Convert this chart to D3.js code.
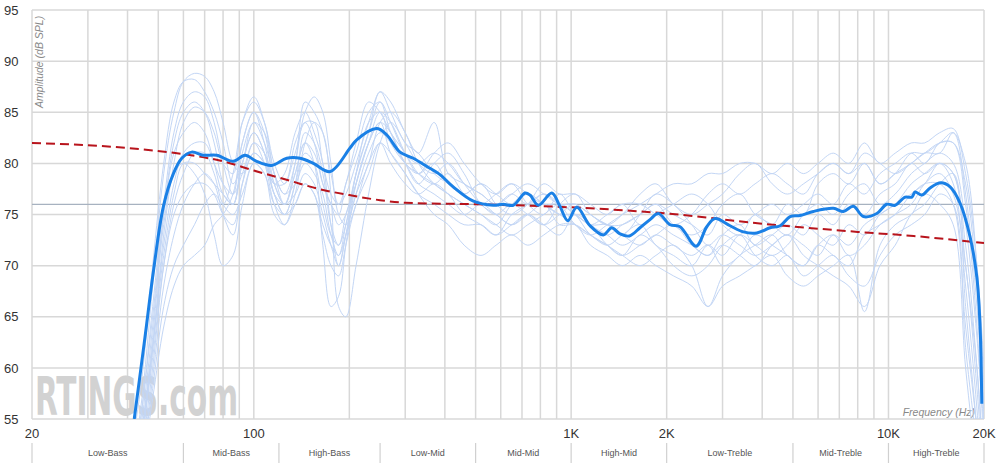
<!DOCTYPE html>
<html>
<head>
<meta charset="utf-8">
<script src="https://cdn.jsdelivr.net/npm/d3@7"></script>
<style>
  body { margin: 0; background: #fff; }
  text { font-family: "Liberation Sans", Arial, sans-serif; }
</style>
</head>
<body>
<svg id="chart"></svg>
<script>
// Tick values / labels
const dbTicks = [55, 60, 65, 70, 75, 80, 85, 90, 95];
const gridFreqs = [30, 40, 50, 60, 70, 80, 90, 100, 200, 300, 400, 500, 600, 700, 800, 900,
    1000, 2000, 3000, 4000, 5000, 6000, 7000, 8000, 9000, 10000];
const freqLabels = [20, 100, 1000, 2000, 10000, 20000];
const freqLabelText = ["20", "100", "1K", "2K", "10K", "20K"];
const bandEdges = [20, 60, 120, 250, 500, 1000, 2000, 5000, 10000, 20000];
const bandNames = ["Low-Bass", "Mid-Bass", "High-Bass", "Low-Mid", "Mid-Mid", "High-Mid",
    "Low-Treble", "Mid-Treble", "High-Treble"];
const targetLevel = 76;

// Average response (thick blue)
const mainFreq = [42, 45.4, 48.2, 51.9, 55.8, 59.3, 63.7, 69.3, 76.4, 86.2, 93.8, 102, 113.8, 127, 140, 154,
    174, 201, 211, 244, 262, 289, 318, 351, 386, 425, 492, 569, 611, 657, 716, 742, 788, 869, 922, 976,
    1042, 1147, 1263, 1343, 1426, 1526, 1648, 1772, 1882, 2050, 2204, 2476, 2676, 2842, 3169, 3490,
    3846, 4236, 4556, 4898, 5266, 5800, 6706, 7212, 7752, 8338, 9188, 9878, 10492, 11284, 11850,
    12134, 12736, 13522, 14616, 15638, 16816, 18080, 18982, 19442, 19680];
const mainDb = [55, 63, 69.3, 75.8, 79.0, 80.5, 81.1, 80.8, 80.8, 80.2, 80.8, 80.2, 79.8, 80.5, 80.5, 80.0,
    79.2, 81.5, 82.3, 83.4, 82.8, 81.1, 80.5, 79.7, 78.9, 77.7, 76.3, 75.9, 76.0, 75.9, 77.1, 76.9,
    75.9, 77.1, 75.8, 74.4, 75.7, 73.9, 73.0, 73.7, 73.1, 72.9, 73.7, 74.5, 75.1, 74.0, 73.8, 71.9,
    73.8, 74.6, 73.9, 73.3, 73.2, 73.7, 73.9, 74.8, 74.9, 75.3, 75.6, 75.3, 75.8, 74.8, 75.1, 76.0,
    75.9, 76.7, 76.7, 77.2, 76.9, 77.6, 78.1, 77.7, 76.1, 72.8, 68.9, 64.0, 56.5];

// Target curve (red dashed)
const targetFreq = [20, 40, 60, 80, 100, 130, 160, 200, 250, 300, 500, 1000, 2000, 4000, 8000, 12000, 20000];
const targetDb = [82.0, 81.5, 80.9, 80.2, 79.3, 78.3, 77.5, 76.9, 76.4, 76.15, 76.0, 75.7, 75.1, 74.1, 73.3, 72.9, 72.2];

// Individual measurements (thin light blue), all on the same frequency points
const measFreq = [20, 35, 40, 44, 48, 52, 56, 60, 65, 70, 75, 80, 86, 92, 100, 108, 116, 125, 135, 145,
    155, 165, 175, 185, 195, 210, 230, 250, 270, 300, 330, 370, 410, 460, 520, 580, 650, 730, 820, 920,
    1030, 1150, 1300, 1450, 1650, 1850, 2100, 2400, 2700, 3000, 3400, 3800, 4300, 4800, 5400, 6000,
    6700, 7500, 8400, 9400, 10500, 11800, 13000, 14500, 16000, 17500, 19000, 20000];
const meas01 = [30,40,48,56,68,79,85,88,88.8,88.5,87,84,80,79,81,80,78,78,82,84,82,78,76,75,78,81,85,86,84,81,80,81,80,78,77,76,77,76,77,76,76,75,74,74,75,76,75,74,73,75,74,75,76,75,76,77,76,78,77,79,80,81,80,82,82,76,64,52];
const meas02 = [30,41,50,58,70,80,86,88,88.2,87,85,82,78,80,84,83,79,77,80,86,85,83,79,76,77,80,84,87,85,82,81,79,78,77,78,76,75,76,78,77,77,76,75,76,74,75,76,77,76,74,73,75,74,76,75,78,79,78,80,78,79,80,81,81,83,80,70,58];
const meas03 = [28,39,47,55,66,76,83,86,87,86.5,84,80,77,82,85,82,78,79,83,85,83,80,74,70,73,79,83,86,83,80,78,80,81,79,76,75,74,75,74,75,76,74,73,72,73,74,73,72,71,73,74,72,73,74,73,75,74,76,75,77,78,80,79,80,79,70,60,50];
const meas04 = [28,38,46,54,64,75,82,85,86,85,82,78,76,80,83,81,77,76,79,82,80,72,66,67,72,78,82,84,83,80,79,78,77,76,75,74,76,77,76,75,74,73,72,73,74,72,71,70,72,71,73,72,71,72,74,73,72,74,73,75,76,78,79,80,78,68,56,47];
const meas05 = [27,37,45,53,62,73,80,84,85.5,85,83,80,79,84,86,84,80,78,81,84,84,80,77,76,78,82,86,85,83,81,79,78,79,77,76,77,78,76,75,77,75,74,73,74,75,76,74,73,74,76,77,75,74,73,75,76,75,77,78,76,77,79,80,81,80,74,63,54];
const meas06 = [27,38,46,55,65,75,81,83,84,83,80,77,76,81,84,82,79,77,78,80,79,77,73,71,74,79,84,85,82,80,79,81,82,80,78,77,78,77,76,76,75,74,74,73,72,73,72,71,72,70,71,73,72,71,70,72,73,71,72,74,75,76,78,79,77,70,58,49];
const meas07 = [26,36,44,52,62,72,78,81,82,82,80,78,77,79,82,81,78,76,77,79,78,75,72,70,73,77,81,83,82,80,78,77,76,75,76,75,74,75,76,74,74,73,72,71,72,73,74,72,71,72,71,70,72,73,72,71,73,72,74,75,76,77,78,78,76,64,54,46];
const meas08 = [25,35,43,51,60,70,76,79,81,81,79,76,75,77,80,79,76,75,78,81,80,76,73,72,75,78,82,84,81,79,77,76,75,74,74,73,74,75,74,73,75,74,72,71,73,72,70,69,70,72,73,71,70,71,69,70,71,69,68,71,73,74,75,77,76,62,52,44];
const meas09 = [24,34,42,50,58,66,70,72,74,76,77,76,79,84,86.5,84,79,76,79,82,81,78,76,74,75,79,83,87,86,83,81,84,79,78,77,76,77,78,77,76,76,75,74,75,77,78,76,75,76,77,79,80,78,77,78,79,80,79,81,80,79,80,81,82,82,78,68,56];
const meas10 = [24,34,41,49,57,64,68,70,71,72,74,75,77,82,85,83,78,76,80,85,86.5,85,80,75,74,77,80,84,85,83,80,78,77,76,75,74,73,74,75,76,75,73,72,71,70,71,72,70,66,69,71,72,73,71,70,72,71,70,73,74,75,77,78,80,79,72,60,50];
const meas11 = [25,35,42,50,59,68,73,76,78,79,78,75,73,78,82,80,76,74,77,82,84,83,77,66,65,70,77,82,84,82,80,79,80,78,76,75,76,75,74,76,77,75,74,73,75,77,76,74,72,73,72,71,72,73,71,70,69,68,66,70,72,75,76,78,79,66,54,46];
const meas12 = [26,37,45,53,63,74,79,80,79,77,73,70,71,76,80,79,75,74,76,78,77,73,70,69,72,76,79,82,80,78,77,78,77,75,74,73,75,76,77,76,74,73,74,75,76,77,78,78,79,79,80,80,79,80,79,80,81,80,82,80,81,82,82,83,83.4,79,70,60];
const meas13 = [25,36,44,52,61,70,75,77,78,78,77,75,74,78,81,80,77,75,76,78,77,74,72,71,73,76,80,82,81,79,77,75,74,72,71,72,73,72,73,74,74,72,71,70,71,70,69,68,66,68,69,70,71,69,68,69,70,71,65.5,72,74,75,77,76,74,60,50,44];
const meas14 = [26,37,44,52,62,71,77,80,80,79,78,77,76,80,83,81,77,75,78,83,82,79,74,72,74,78,82,85,84,81,79,80,78,77,78,77,76,77,76,75,75,74,75,76,76,75,74,75,77,78,77,78,79,78,77,79,80,79,80,78,79,81,81,82,83,77,66,55];
const measurements = [meas01, meas02, meas03, meas04, meas05, meas06, meas07, meas08, meas09, meas10, meas11, meas12, meas13, meas14];

// Size
const width = 1000;
const height = 474;
const margin = { top: 10, right: 16, bottom: 55, left: 32 };

const svg = d3.select("#chart")
    .attr("width", width)
    .attr("height", height);

const x = d3.scaleLog()
    .domain([20, 20000])
    .range([margin.left, width - margin.right]);

const y = d3.scaleLinear()
    .domain([55, 95])
    .range([height - margin.bottom, margin.top]);

svg.append("defs").append("clipPath")
    .attr("id", "plot-clip")
    .append("rect")
    .attr("x", x(20))
    .attr("y", y(95))
    .attr("width", x(20000) - x(20))
    .attr("height", y(55) - y(95));

// Grid
svg.append("g")
    .selectAll("line")
    .data(dbTicks)
    .join("line")
    .attr("x1", x(20))
    .attr("x2", x(20000))
    .attr("y1", d => y(d))
    .attr("y2", d => y(d))
    .attr("stroke", "#d8d8d8")
    .attr("stroke-width", 1.5);

svg.append("g")
    .selectAll("line")
    .data([20].concat(gridFreqs, [20000]))
    .join("line")
    .attr("x1", d => x(d))
    .attr("x2", d => x(d))
    .attr("y1", y(95))
    .attr("y2", y(55))
    .attr("stroke", "#d8d8d8")
    .attr("stroke-width", 1.5);

// Target level line
svg.append("line")
    .attr("x1", x(20))
    .attr("x2", x(20000))
    .attr("y1", y(targetLevel))
    .attr("y2", y(targetLevel))
    .attr("stroke", "#a7b2c0")
    .attr("stroke-width", 1.2);

// Watermark
svg.append("text")
    .attr("x", 35)
    .attr("y", 415)
    .attr("textLength", 203)
    .attr("lengthAdjust", "spacingAndGlyphs")
    .style("font-family", "'Liberation Sans Narrow', 'DejaVu Sans Condensed', sans-serif")
    .style("font-weight", "bold")
    .style("font-size", "54px")
    .attr("fill", "#d2d2d2")
    .text("RTINGS.com");

// Axis labels
svg.append("g")
    .selectAll("text")
    .data(dbTicks)
    .join("text")
    .attr("x", 18.5)
    .attr("y", d => y(d))
    .attr("dy", "0.36em")
    .attr("text-anchor", "end")
    .attr("fill", "#333")
    .style("font-size", "13px")
    .text(d => d);

svg.append("g")
    .selectAll("text")
    .data(freqLabels)
    .join("text")
    .attr("x", d => x(d))
    .attr("y", 438)
    .attr("text-anchor", "middle")
    .attr("fill", "#333")
    .style("font-size", "13px")
    .text((d, i) => freqLabelText[i]);

svg.append("text")
    .attr("transform", "rotate(-90)")
    .attr("x", -108)
    .attr("y", 43)
    .attr("text-anchor", "start")
    .attr("fill", "#888")
    .style("font-size", "10.5px")
    .style("font-style", "italic")
    .text("Amplitude (dB SPL)");

svg.append("text")
    .attr("x", 975)
    .attr("y", 416)
    .attr("text-anchor", "end")
    .attr("fill", "#888")
    .style("font-size", "10.5px")
    .style("font-style", "italic")
    .text("Frequency (Hz)");

// Bands
svg.append("g")
    .selectAll("line")
    .data(bandEdges)
    .join("line")
    .attr("x1", d => x(d))
    .attr("x2", d => x(d))
    .attr("y1", 443)
    .attr("y2", 463)
    .attr("stroke", "#d0d0d0")
    .attr("stroke-width", 1.2);

svg.append("g")
    .selectAll("text")
    .data(bandNames)
    .join("text")
    .attr("x", (d, i) => (x(bandEdges[i]) + x(bandEdges[i + 1])) / 2)
    .attr("y", 456)
    .attr("text-anchor", "middle")
    .attr("fill", "#555")
    .style("font-size", "9px")
    .text(d => d);

// Curves
const plot = svg.append("g").attr("clip-path", "url(#plot-clip)");

const thinLine = d3.line()
    .x((d, i) => x(measFreq[i]))
    .y(d => y(d))
    .curve(d3.curveCatmullRom.alpha(0.5));

plot.selectAll(".meas")
    .data(measurements)
    .join("path")
    .attr("class", "meas")
    .attr("d", thinLine)
    .attr("fill", "none")
    .attr("stroke", "#c3d6f5")
    .attr("stroke-width", 1);

const targetLine = d3.line()
    .x((d, i) => x(targetFreq[i]))
    .y(d => y(d))
    .curve(d3.curveMonotoneX);

plot.append("path")
    .attr("d", targetLine(targetDb))
    .attr("fill", "none")
    .attr("stroke", "#b8141c")
    .attr("stroke-width", 2)
    .attr("stroke-dasharray", "9,5");

const mainLine = d3.line()
    .x((d, i) => x(mainFreq[i]))
    .y(d => y(d))
    .curve(d3.curveCatmullRom.alpha(0.5));

plot.append("path")
    .attr("d", mainLine(mainDb))
    .attr("fill", "none")
    .attr("stroke", "#1a80e6")
    .attr("stroke-width", 3);
</script>
</body>
</html>
